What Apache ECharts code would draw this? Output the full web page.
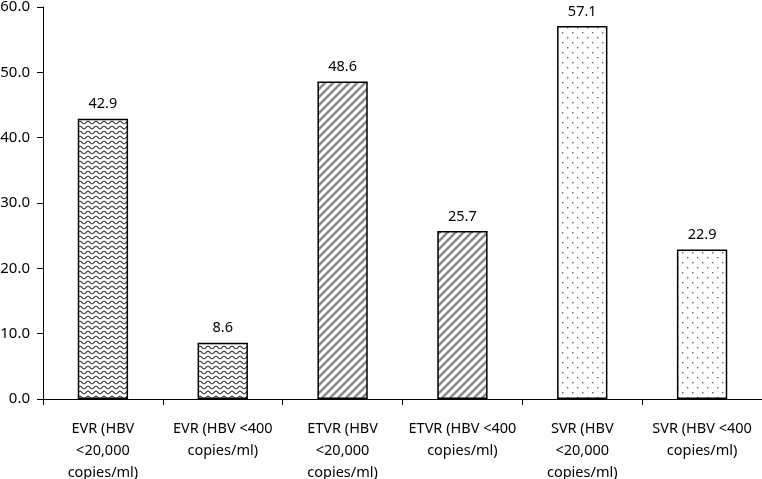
<!DOCTYPE html>
<html><head><meta charset="utf-8">
<script src="https://cdn.jsdelivr.net/npm/echarts@6/dist/echarts.min.js"></script>
<style>html,body{margin:0;padding:0;background:#fff}#c{width:762px;height:479px}</style>
</head><body><div id="c"></div>
<script>
const categories = [
  'EVR (HBV\n<20,000\ncopies/ml)',
  'EVR (HBV <400\ncopies/ml)',
  'ETVR (HBV\n<20,000\ncopies/ml)',
  'ETVR (HBV <400\ncopies/ml)',
  'SVR (HBV\n<20,000\ncopies/ml)',
  'SVR (HBV <400\ncopies/ml)'
];
const values = [42.9, 8.6, 48.6, 25.7, 57.1, 22.9];
const patternKinds = ['wave', 'wave', 'stripe', 'stripe', 'dot', 'dot'];

function makePattern(kind) {
  const c = document.createElement('canvas');
  const ctx = c.getContext('2d');
  if (kind === 'wave') {
    c.width = 8; c.height = 5;
    ctx.fillStyle = '#fff'; ctx.fillRect(0, 0, 8, 5);
    ctx.strokeStyle = '#3a3a3a'; ctx.lineWidth = 1.1;
    ctx.beginPath();
    for (let x = -1; x <= 9; x += 0.25) {
      const y = 2.5 - 1.3 * Math.cos(2 * Math.PI * x / 8);
      if (x === -1) ctx.moveTo(x, y); else ctx.lineTo(x, y);
    }
    ctx.stroke();
  } else if (kind === 'stripe') {
    c.width = 8; c.height = 8;
    ctx.fillStyle = '#fff'; ctx.fillRect(0, 0, 8, 8);
    ctx.strokeStyle = '#8a8a8a'; ctx.lineWidth = 2.6;
    ctx.beginPath();
    for (let k = -1; k <= 1; k++) {
      ctx.moveTo(k * 8 - 1, 9); ctx.lineTo(k * 8 + 9, -1);
    }
    ctx.stroke();
  } else {
    c.width = 10; c.height = 10;
    ctx.fillStyle = '#fff'; ctx.fillRect(0, 0, 10, 10);
    ctx.fillStyle = '#666';
    ctx.fillRect(2, 2, 1.4, 1.4); ctx.fillRect(7, 7, 1.4, 1.4);
  }
  return { image: c, repeat: 'repeat' };
}

const chart = echarts.init(document.getElementById('c'), null, { renderer: 'canvas' });
const font = 'Noto Sans';
chart.setOption({
  animation: false,
  grid: { left: 43, right: 0, top: 7, bottom: 80, containLabel: false, outerBoundsMode: 'none' },
  xAxis: {
    type: 'category', data: categories,
    axisLine: { lineStyle: { color: '#000', width: 1 } },
    axisTick: { show: true, length: 6, lineStyle: { color: '#000' } },
    axisLabel: { color: '#000', fontFamily: font, fontSize: 14.5, lineHeight: 22, margin: 19, interval: 0 }
  },
  yAxis: {
    type: 'value', min: 0, max: 60, interval: 10,
    splitLine: { show: false },
    axisLine: { show: true, lineStyle: { color: '#000', width: 1 } },
    axisTick: { show: true, length: 6, inside: false, lineStyle: { color: '#000' } },
    axisLabel: { color: '#000', fontFamily: font, fontSize: 15, margin: 13, formatter: v => v.toFixed(1) }
  },
  series: [{
    type: 'bar', barWidth: '42%',
    data: values.map((v, i) => ({
      value: v,
      itemStyle: { color: makePattern(patternKinds[i]), borderColor: '#000', borderWidth: 1.5 }
    })),
    label: { show: true, position: 'top', distance: 7, color: '#000', fontFamily: font, fontSize: 14.5, formatter: p => p.value.toFixed(1) }
  }]
});
</script></body></html>
